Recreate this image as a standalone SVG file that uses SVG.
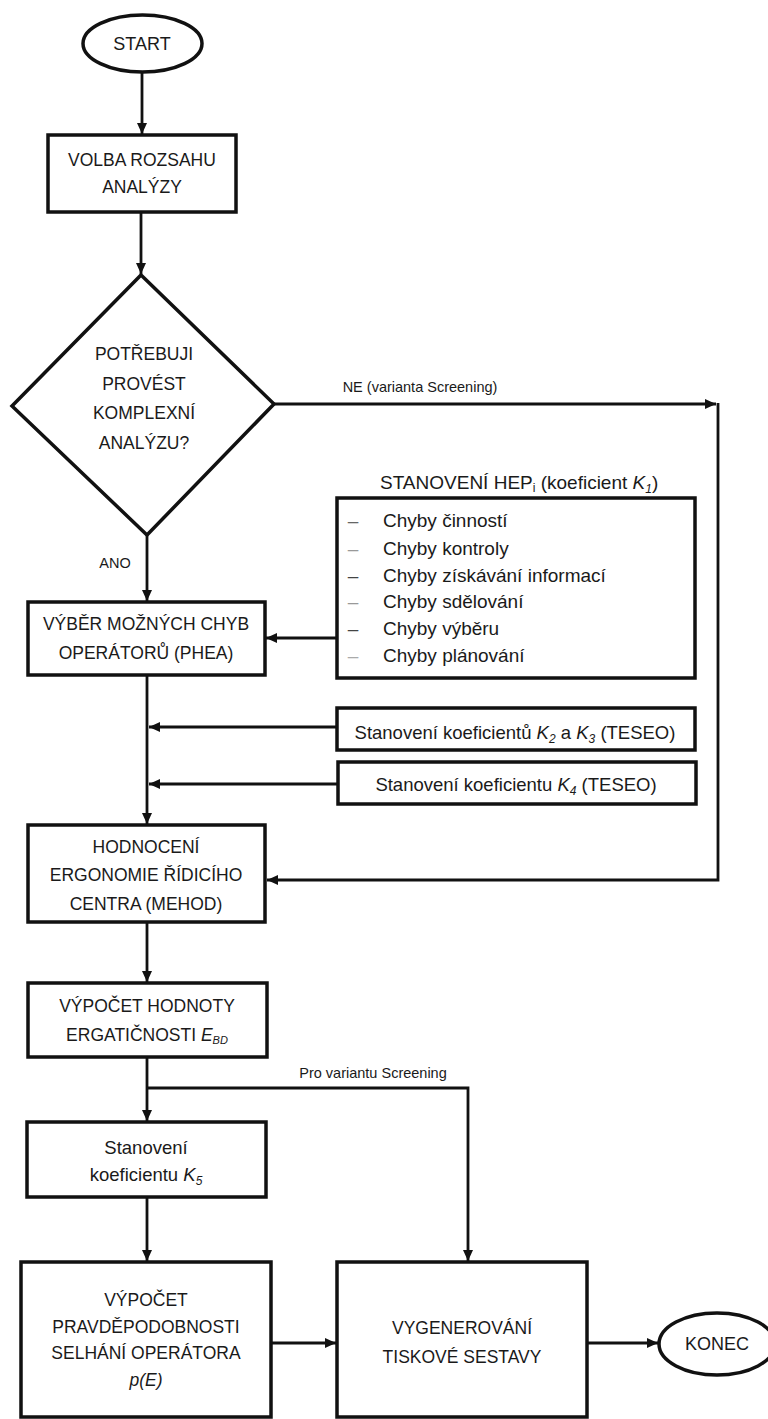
<svg xmlns="http://www.w3.org/2000/svg" width="768" height="1419" viewBox="0 0 768 1419">
<style>
.box{fill:#fff;stroke:#111;stroke-width:3.5}
.con{fill:none;stroke:#111;stroke-width:2.8}
.t{font-family:"Liberation Sans",Arial,sans-serif;fill:#1a1a1a;text-anchor:middle}
.u{font-size:17.5px}
.m{font-size:18.5px}
.l{font-size:14.5px}
.li{font-family:"Liberation Sans",Arial,sans-serif;fill:#1a1a1a;font-size:19px}
.i{font-style:italic}
</style>
<defs>
<marker id="ah" markerUnits="userSpaceOnUse" markerWidth="12" markerHeight="11" refX="11" refY="5" orient="auto">
<path d="M0,0 L11,5 L0,10 z" fill="#111"/>
</marker>
</defs>
<rect width="768" height="1419" fill="#fff"/>

<g id="connectors">
<line class="con" x1="142" y1="72" x2="142" y2="134" marker-end="url(#ah)"/>
<line class="con" x1="141" y1="212" x2="141" y2="274" marker-end="url(#ah)"/>
<line class="con" x1="274" y1="404" x2="716" y2="404" marker-end="url(#ah)"/>
<path class="con" d="M718,403 V880 H267" marker-end="url(#ah)"/>
<line class="con" x1="147" y1="535" x2="147" y2="601" marker-end="url(#ah)"/>
<line class="con" x1="337" y1="638" x2="266" y2="638" marker-end="url(#ah)"/>
<line class="con" x1="147" y1="675" x2="147" y2="824" marker-end="url(#ah)"/>
<line class="con" x1="337" y1="727" x2="149" y2="727" marker-end="url(#ah)"/>
<line class="con" x1="338" y1="784" x2="149" y2="784" marker-end="url(#ah)"/>
<line class="con" x1="147" y1="922" x2="147" y2="982" marker-end="url(#ah)"/>
<line class="con" x1="147" y1="1057" x2="147" y2="1121" marker-end="url(#ah)"/>
<path class="con" d="M147,1088 H468 V1261" marker-end="url(#ah)"/>
<line class="con" x1="147" y1="1197" x2="147" y2="1261" marker-end="url(#ah)"/>
<line class="con" x1="271" y1="1343" x2="336" y2="1343" marker-end="url(#ah)"/>
<line class="con" x1="587" y1="1343" x2="658" y2="1343" marker-end="url(#ah)"/>
<text class="t l" x="420" y="392">NE (varianta Screening)</text>
<text class="t l" x="115" y="568">ANO</text>
<text class="t l" x="373" y="1078">Pro variantu Screening</text>
</g>

<g id="start">
<ellipse class="box" cx="142.5" cy="43.5" rx="59.5" ry="28.5"/>
<text class="t" font-size="18" x="142" y="50">START</text>
</g>

<g id="volba">
<rect class="box" x="48" y="135" width="188" height="77"/>
<text class="t u" x="142" y="166">VOLBA ROZSAHU</text>
<text class="t u" x="142" y="193">ANALÝZY</text>
</g>

<g id="decision">
<polygon class="box" points="141,275 274,404 147,535 12,406"/>
<text class="t u" x="144" y="360">POTŘEBUJI</text>
<text class="t u" x="144" y="390">PROVÉST</text>
<text class="t u" x="144" y="419">KOMPLEXNÍ</text>
<text class="t u" x="144" y="449">ANALÝZU?</text>
</g>

<g id="phea">
<rect class="box" x="28" y="602" width="237" height="73"/>
<text class="t u" x="146" y="630">VÝBĚR MOŽNÝCH CHYB</text>
<text class="t u" x="146" y="659">OPERÁTORŮ (PHEA)</text>
</g>

<g id="hep">
<text class="li" x="380" y="489">STANOVENÍ HEP<tspan font-size="12" dy="3">i</tspan><tspan dy="-3"> (koeficient </tspan><tspan class="i">K</tspan><tspan class="i" font-size="12" dy="4">1</tspan><tspan dy="-4">)</tspan></text>
<rect class="box" x="337" y="498" width="358" height="180"/>
<g font-family="Liberation Sans,Arial,sans-serif" font-size="19" text-anchor="middle">
<text x="353" y="527" fill="#666">–</text>
<text x="353" y="555" fill="#999">–</text>
<text x="353" y="582" fill="#444">–</text>
<text x="353" y="608" fill="#999">–</text>
<text x="353" y="635" fill="#444">–</text>
<text x="353" y="662" fill="#aaa">–</text>
</g>
<text class="li" x="383" y="527">Chyby činností</text>
<text class="li" x="383" y="555">Chyby kontroly</text>
<text class="li" x="383" y="582">Chyby získávání informací</text>
<text class="li" x="383" y="608">Chyby sdělování</text>
<text class="li" x="383" y="635">Chyby výběru</text>
<text class="li" x="383" y="662">Chyby plánování</text>
</g>

<g id="k2k3">
<rect class="box" x="337" y="708" width="358" height="42"/>
<text class="t m" x="515" y="739">Stanovení koeficientů <tspan class="i">K</tspan><tspan class="i" font-size="12" dy="4">2</tspan><tspan dy="-4"> a </tspan><tspan class="i">K</tspan><tspan class="i" font-size="12" dy="4">3</tspan><tspan dy="-4"> (TESEO)</tspan></text>
</g>

<g id="k4">
<rect class="box" x="338" y="762" width="358" height="42"/>
<text class="t m" x="516" y="791">Stanovení koeficientu <tspan class="i">K</tspan><tspan class="i" font-size="12" dy="4">4</tspan><tspan dy="-4"> (TESEO)</tspan></text>
</g>

<g id="mehod">
<rect class="box" x="28" y="825" width="237" height="97"/>
<text class="t u" x="146" y="853">HODNOCENÍ</text>
<text class="t u" x="146" y="881">ERGONOMIE ŘÍDICÍHO</text>
<text class="t u" x="146" y="910">CENTRA (MEHOD)</text>
</g>

<g id="ebd">
<rect class="box" x="28" y="983" width="239" height="74"/>
<text class="t u" x="147" y="1012">VÝPOČET HODNOTY</text>
<text class="t u" x="147" y="1041">ERGATIČNOSTI <tspan class="i">E</tspan><tspan class="i" font-size="11" dy="3">BD</tspan></text>
</g>

<g id="k5">
<rect class="box" x="27" y="1122" width="239" height="75"/>
<text class="t m" x="146" y="1154">Stanovení</text>
<text class="t m" x="146" y="1181">koeficientu <tspan class="i">K</tspan><tspan class="i" font-size="12" dy="4">5</tspan></text>
</g>

<g id="pe">
<rect class="box" x="21" y="1262" width="250" height="155"/>
<text class="t u" x="146" y="1306">VÝPOČET</text>
<text class="t u" x="146" y="1333">PRAVDĚPODOBNOSTI</text>
<text class="t u" x="146" y="1359">SELHÁNÍ OPERÁTORA</text>
<text class="t u i" x="146" y="1386">p(E)</text>
</g>

<g id="report">
<rect class="box" x="337" y="1262" width="250" height="155"/>
<text class="t u" x="462" y="1334">VYGENEROVÁNÍ</text>
<text class="t u" x="462" y="1363">TISKOVÉ SESTAVY</text>
</g>

<g id="konec">
<ellipse class="box" cx="717" cy="1344" rx="58" ry="31"/>
<text class="t" font-size="18" x="717" y="1350">KONEC</text>
</g>
</svg>
